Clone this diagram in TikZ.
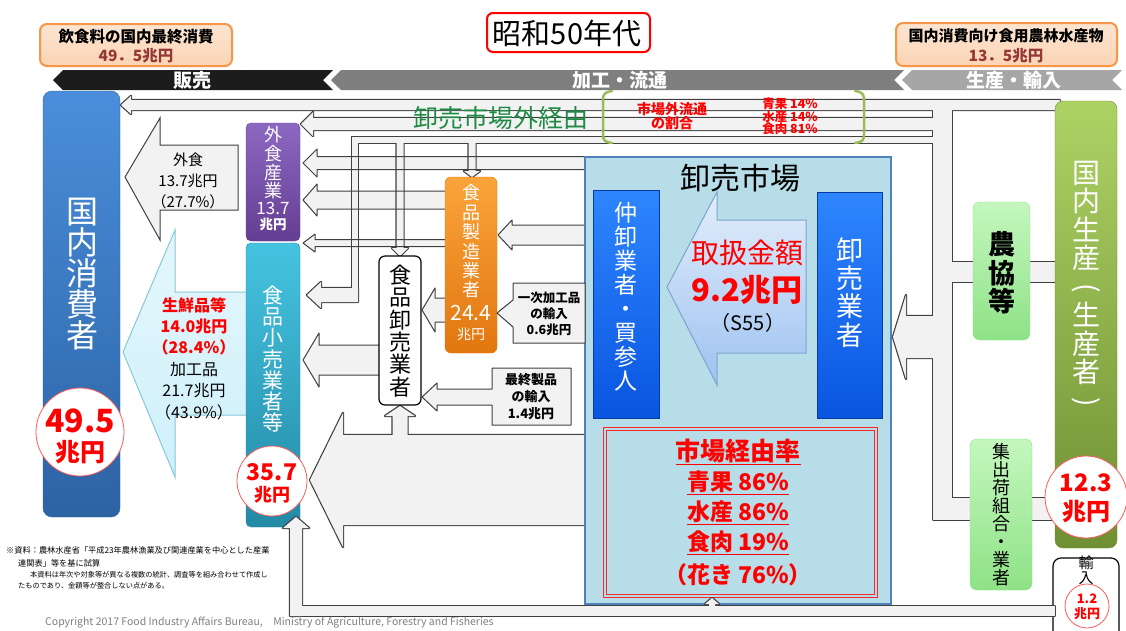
\documentclass[tikz,border=0pt]{standalone}
\usepackage{fontspec}
\usepackage{graphicx}
\setmainfont{Noto Sans CJK JP}
\definecolor{pipefill}{HTML}{F2F2F2}
\definecolor{pipeline}{HTML}{404040}
\definecolor{bandblack}{HTML}{1C1C1C}
\definecolor{bandgrey}{HTML}{7F7F7F}
\definecolor{bandlight}{HTML}{A6A6A6}
\definecolor{peach}{HTML}{FBD4B4}
\definecolor{peachline}{HTML}{F79646}
\definecolor{numred}{HTML}{953735}
\definecolor{consTop}{HTML}{4A8EDB}
\definecolor{consBot}{HTML}{2C63A3}
\definecolor{purTop}{HTML}{8C68C2}
\definecolor{purBot}{HTML}{643E92}
\definecolor{tealTop}{HTML}{45C3E0}
\definecolor{tealBot}{HTML}{238AA6}
\definecolor{oraTop}{HTML}{FAA43A}
\definecolor{oraBot}{HTML}{E2760F}
\definecolor{mktFill}{HTML}{B7DDE8}
\definecolor{mktLine}{HTML}{4F81BD}
\definecolor{bbTop}{HTML}{2E86FF}
\definecolor{bbBot}{HTML}{0A55E0}
\definecolor{grnTop}{HTML}{ADD264}
\definecolor{grnBot}{HTML}{6F8F33}
\definecolor{lgTop}{HTML}{C4F7BE}
\definecolor{lgBot}{HTML}{8EE286}
\definecolor{lbFill}{HTML}{CFF0FA}
\definecolor{lbLine}{HTML}{86C8DC}
\definecolor{maTop}{HTML}{E2EEFB}
\definecolor{maBot}{HTML}{9EC2F0}
\definecolor{maLine}{HTML}{7DA3D0}
\definecolor{mktGreen}{HTML}{1E8B45}
\definecolor{brGreen}{HTML}{9BBB59}
\definecolor{ftgrey}{HTML}{7F7F7F}
\newcommand\fsz[2]{\fontsize{#1}{#2}\selectfont}
\newcommand\vparen[1]{\rotatebox[origin=c]{-90}{#1}}
\newcommand\LArrowP[6]{(#1,#2) -- ({#1+#3},{#2-#4}) -- ({#1+#3},{#2-#5}) -- (#6,{#2-#5}) -- (#6,{#2+#5}) -- ({#1+#3},{#2+#5}) -- ({#1+#3},{#2+#4}) -- cycle}
\newcommand\UArrowP[6]{(#1,#2) -- ({#1+#4},{#2+#3}) -- ({#1+#5},{#2+#3}) -- ({#1+#5},#6) -- ({#1-#5},#6) -- ({#1-#5},{#2+#3}) -- ({#1-#4},{#2+#3}) -- cycle}
\newcommand\DArrowP[6]{(#1,#2) -- ({#1+#4},{#2-#3}) -- ({#1+#5},{#2-#3}) -- ({#1+#5},#6) -- ({#1-#5},#6) -- ({#1-#5},{#2-#3}) -- ({#1-#4},{#2-#3}) -- cycle}
\newcommand\NetDraw[1]{%
  \foreach \p in {#1} {\draw[pipeline, line width=2.4, line join=round] \p;}
  \foreach \p in {#1} {\fill[pipefill] \p;}}
\begin{document}
\begin{tikzpicture}[x=1pt,y=-1pt,
  vtext/.style={align=center, inner sep=0},
  boxshape/.style={inner sep=0, rounded corners=5},
  bandtext/.style={text=white, font=\fsz{19}{21}\bfseries, inner sep=0},
  rowfill/.style={fill=pipefill},
  rowline/.style={draw=pipeline, line width=1, line join=round},
  sumcircle/.style={circle, draw=red!65, fill=white, line width=0.8, inner sep=0},
  redbold/.style={text=red, font=\bfseries, inner sep=0}]
\useasboundingbox (0,0) rectangle (1126,630);
\fill[white] (0,0) rectangle (1126,630);

% ---------- bands
\fill[bandblack] (53,80) -- (63,70) -- (333,70) -- (323,80) -- (333,90) -- (63,90) -- cycle;
\fill[bandgrey] (331,80) -- (341,70) -- (904,70) -- (894,80) -- (904,90) -- (341,90) -- cycle;
\fill[bandlight] (902,80) -- (912,70) -- (1122,70) -- (1112,80) -- (1122,90) -- (912,90) -- cycle;
\node[bandtext] (bSales) at (192,80) {販売};
\node[bandtext] (bProc) at (620,80) {加工・流通};
\node[bandtext] (bProd) at (1014,80) {生産・輸入};

% ---------- top boxes
\node[boxshape, rounded corners=7, draw=peachline, line width=2, top color=peach!60, bottom color=peach, minimum width=192, minimum height=42] (topL) at (136,45) {};
\node[inner sep=0, font=\fsz{15.5}{17}\bfseries] (topLa) at (136,37) {飲食料の国内最終消費};
\node[inner sep=0, font=\fsz{15.5}{17}\bfseries, text=numred] (topLb) at (136,56) {49．5兆円};
\node[boxshape, rounded corners=7, draw=peachline, line width=2, top color=peach!60, bottom color=peach, minimum width=221, minimum height=43] (topR) at (1006.5,44.5) {};
\node[inner sep=0, font=\fsz{15}{17}\bfseries] (topRa) at (1006,36) {国内消費向け食用農林水産物};
\node[inner sep=0, font=\fsz{15.5}{17}\bfseries, text=numred] (topRb) at (1006,56) {13．5兆円};
\node[boxshape, rounded corners=6, draw=red, line width=2, fill=white, minimum width=163, minimum height=39] (title) at (568.5,32.5) {};
\node[inner sep=0, font=\fsz{29}{31}] (titleT) at (567,33) {昭和50年代};

% ---------- row arrows (fill first)
\def\rowlist{{\LArrowP{303}{163}{14}{14}{6.5}{586}},{\LArrowP{303}{200}{14}{16}{9}{446}},{\LArrowP{303}{243}{12}{9}{3.5}{446}},{\LArrowP{498}{235}{14}{15}{10}{586}},{\LArrowP{422}{310}{13}{22}{12}{446}},{\LArrowP{303}{360}{16}{27}{15}{380}}}
\foreach \p in \rowlist {\fill[rowfill] \p;}

% ---------- top pipe network (union)
\NetDraw{{\LArrowP{121}{105}{10}{9}{5}{1060}},{\LArrowP{301}{124}{12}{12}{6}{940}},{(352,137) rectangle (940,143)},{(933,100) rectangle (952,520)},{(945,262) rectangle (1060,282)},{(945,498) rectangle (1060,520)},{(352,137) rectangle (358,302)},{\LArrowP{307}{295}{14}{13}{7}{358}},{\DArrowP{400}{256}{8}{8}{3.5}{140}},{\DArrowP{472}{177}{6}{8}{3.5}{140}},{\LArrowP{893}{337}{13}{42}{21}{940}}}
% ---------- big lower arrow + branch to wholesaler
\NetDraw{{\LArrowP{310}{480}{33}{67}{45}{586}},{\UArrowP{400}{406}{10}{15}{7.5}{440}}}

\foreach \p in \rowlist {\draw[rowline] \p;}

% ---------- labelled arrows towards consumers
\draw[fill=pipefill, draw=pipeline, line width=1] (125,177) -- (160,118) -- (160,145) -- (238,145) -- (238,210) -- (160,210) -- (160,240) -- cycle;
\node[vtext, font=\fsz{15}{21}] (aEat) at (188,181) {外食\\13.7兆円\\（27.7\%）};
\draw[top color=lbFill!55, bottom color=lbFill, draw=lbLine, line width=1] (123,352) -- (175,230) -- (175,292) -- (252,292) -- (252,415) -- (175,415) -- (175,477) -- cycle;
\node[vtext, font=\fsz{16}{21.4}] (aRet) at (194,358.5) {\textcolor{red}{\bfseries 生鮮品等}\\\textcolor{red}{\bfseries 14.0兆円}\\\textcolor{red}{\bfseries （28.4\%）}\\加工品\\21.7兆円\\（43.9\%）};

% ---------- consumer
\node[boxshape, rounded corners=9, top color=consTop, bottom color=consBot, draw=consBot, minimum width=77, minimum height=426] (cons) at (81.5,304) {};
\node[vtext, text=white, font=\fsz{32}{31}] (consT) at (82,274) {国\\内\\消\\費\\者};

% ---------- food service / retail
\node[boxshape, top color=purTop, bottom color=purBot, draw=purBot, minimum width=54, minimum height=118] (eat) at (273,182) {};
\node[vtext, text=white, font=\fsz{18}{18.7}] (eatT) at (273,163) {外\\食\\産\\業};
\node[inner sep=0, text=white, font=\fsz{17}{18}] (eatN) at (273,208) {13.7};
\node[inner sep=0, text=white, font=\fsz{13.5}{15}\bfseries] (eatU) at (273,224) {兆円};
\node[boxshape, top color=tealTop, bottom color=tealBot, draw=tealBot, minimum width=54, minimum height=284] (ret) at (273,385) {};
\node[vtext, text=white, font=\fsz{21}{21.3}] (retT) at (273,359) {食\\品\\小\\売\\業\\者\\等};

% ---------- wholesaler / manufacturer
\node[boxshape, rounded corners=6, fill=white, draw=black, line width=1.2, minimum width=42, minimum height=149] (whl) at (400,330.5) {};
\node[vtext, font=\fsz{22}{22.4}] (whlT) at (400,331) {食\\品\\卸\\売\\業\\者};
\node[boxshape, rounded corners=6, top color=oraTop, bottom color=oraBot, draw=oraBot, minimum width=52, minimum height=176] (mfg) at (471,265) {};
\node[vtext, text=white, font=\fsz{18}{19.4}] (mfgT) at (471,241.5) {食\\品\\製\\造\\業\\者};
\node[inner sep=0, text=white, font=\fsz{21}{22}] (mfgN) at (471,313) {24.4};
\node[inner sep=0, text=white, font=\fsz{14}{15}] (mfgU) at (471,334) {兆円};

% ---------- wholesale market
\node[inner sep=0, fill=mktFill, draw=mktLine, line width=2.5, minimum width=306, minimum height=447] (mkt) at (738,380.5) {};
\node[inner sep=0, font=\fsz{30}{32}] (mktT) at (740,178) {卸売市場};
\node[inner sep=0, top color=bbTop, bottom color=bbBot, draw=bbBot!70!black, minimum width=66, minimum height=228] (mid) at (626,304) {};
\node[vtext, text=white, font=\fsz{23}{24}] (midT) at (626,296.5) {仲\\卸\\業\\者\\・\\買\\参\\人};
\node[inner sep=0, top color=bbTop, bottom color=bbBot, draw=bbBot!70!black, minimum width=65, minimum height=226] (wsl) at (849.5,305) {};
\node[vtext, text=white, font=\fsz{27}{28.3}] (wslT) at (849.5,292.5) {卸\\売\\業\\者};
\draw[top color=maTop, bottom color=maBot, draw=maLine, line width=1] (667,287) -- (717,192) -- (717,220) -- (806,220) -- (806,353) -- (717,353) -- (717,385) -- cycle;
\node[inner sep=0, text=red, font=\fsz{28}{30}] (amtA) at (747,253) {取扱金額};
\node[inner sep=0, text=red, font=\fsz{31}{33}\bfseries] (amtB) at (747,290) {9.2兆円};
\node[inner sep=0, font=\fsz{20}{22}] (amtC) at (748,323) {（S55）};
\draw[red!85, line width=1] (603,427) rectangle (877,597);
\draw[red!85, line width=1] (606,430) rectangle (874,594);
\node[redbold, font=\fsz{25}{27}\bfseries] (rate0) at (738,452) {\underline{市場経由率}};
\node[redbold, font=\fsz{23}{25}\bfseries] (rate1) at (738,483) {\underline{青果 86\%}};
\node[redbold, font=\fsz{23}{25}\bfseries] (rate2) at (738,513) {\underline{水産 86\%}};
\node[redbold, font=\fsz{23}{25}\bfseries] (rate3) at (738,543) {\underline{食肉 19\%}};
\node[redbold, font=\fsz{23}{25}\bfseries] (rate4) at (738,575) {（花き 76\%）};

% ---------- producers
\node[boxshape, rounded corners=8, top color=grnTop, bottom color=grnBot, draw=grnBot, minimum width=62, minimum height=447] (prod) at (1086,324.5) {};
\node[vtext, text=white, font=\fsz{28}{28.5}] (prodT) at (1086,286) {国\\内\\生\\産\\\vparen{(}\\生\\産\\者\\\vparen{)}};
\node[boxshape, rounded corners=7, top color=lgTop, bottom color=lgBot, draw=lgBot, minimum width=57, minimum height=138] (coop) at (1001.5,271) {};
\node[vtext, font=\fsz{27}{28.5}\bfseries] (coopT) at (1001.5,273) {農\\協\\等};
\node[boxshape, rounded corners=7, top color=lgTop, bottom color=lgBot, draw=lgBot, minimum width=62, minimum height=151] (ship) at (1001,514.5) {};
\node[vtext, font=\fsz{18}{18}] (shipT) at (1001,515) {集\\出\\荷\\組\\合\\・\\業\\者};
\node[boxshape, rounded corners=8, fill=white, draw=black, line width=1.2, minimum width=66, minimum height=82] (imp) at (1086,599) {};
\node[vtext, font=\fsz{15}{15}] (impT) at (1086,570) {輸\\入};

% ---------- bottom pipe network
\NetDraw{{(290,606) rectangle (1055,616)},{\UArrowP{296}{517}{11}{13}{6}{616}},{\UArrowP{712}{598}{6}{7}{3}{610}}}

% ---------- amount circles
\node[sumcircle, minimum size=88] (c495) at (80,432) {};
\node[redbold, font=\fsz{32}{34}\bfseries] (c495a) at (80,421) {49.5};
\node[redbold, font=\fsz{25}{27}\bfseries] (c495b) at (80,452) {兆円};
\node[sumcircle, minimum size=70] (c357) at (272,481) {};
\node[redbold, font=\fsz{23}{25}\bfseries] (c357a) at (272,472) {35.7};
\node[redbold, font=\fsz{18}{20}\bfseries] (c357b) at (272,495) {兆円};
\node[sumcircle, minimum size=82] (c123) at (1086,497) {};
\node[redbold, font=\fsz{24}{26}\bfseries] (c123a) at (1086,483) {12.3};
\node[redbold, font=\fsz{24}{26}\bfseries] (c123b) at (1086,512) {兆円};
\node[sumcircle, minimum size=44] (c12) at (1087,606) {};
\node[redbold, font=\fsz{13}{14}\bfseries] (c12a) at (1087,599) {1.2};
\node[redbold, font=\fsz{13}{14}\bfseries] (c12b) at (1087,614) {兆円};

% ---------- import callouts
\draw[fill=pipefill, draw=pipeline, line width=1, line join=round] (513,283) -- (585,283) -- (585,343) -- (513,343) -- (513,327) -- (497,313) -- (513,300) -- cycle;
\node[vtext, font=\fsz{12.5}{16}\bfseries] (impA) at (549,313.5) {一次加工品\\の輸入\\0.6兆円};
\draw[fill=pipefill, draw=pipeline, line width=1, line join=round] (492,368) -- (571,368) -- (571,425) -- (492,425) -- (492,405) -- (437,405) -- (437,411) -- (422,397) -- (437,383) -- (437,389) -- (492,389) -- cycle;
\node[vtext, font=\fsz{13}{17}\bfseries] (impB) at (531,397) {最終製品\\の輸入\\1.4兆円};

% ---------- outside-market label
\node[inner sep=0, text=mktGreen, font=\fsz{25}{27}] (outT) at (501,118) {卸売市場外経由};
\draw[brGreen, line width=2.5, line cap=round] (612,91) .. controls (604,92) and (603,95) .. (603,100) -- (603,134) .. controls (603,140) and (604,142) .. (612,143);
\draw[brGreen, line width=2.5, line cap=round] (855,91) .. controls (863,92) and (864,95) .. (864,100) -- (864,134) .. controls (864,140) and (863,142) .. (855,143);
\node[vtext, text=red, font=\fsz{14}{14}\bfseries] (outR) at (672,116) {市場外流通\\の割合};
\node[vtext, text=red, font=\fsz{12.5}{12.5}\bfseries] (outP) at (790,116.5) {青果 14\%\\水産 14\%\\食肉 81\%};

% ---------- notes
\node[anchor=west, inner sep=0, font=\fsz{8.2}{10}] (n1) at (6,550) {※資料：農林水産省「平成23年農林漁業及び関連産業を中心とした産業};
\node[anchor=west, inner sep=0, font=\fsz{8.2}{10}] (n2) at (18,563) {連関表」等を基に試算};
\node[anchor=west, inner sep=0, font=\fsz{7.2}{9}] (n3) at (30,575) {本資料は年次や対象等が異なる複数の統計、調査等を組み合わせて作成し};
\node[anchor=west, inner sep=0, font=\fsz{7.2}{9}] (n4) at (18,586) {たものであり、金額等が整合しない点がある。};
\node[anchor=west, inner sep=0, text=ftgrey, font=\fsz{10.5}{12}] (copy) at (45,623) {Copyright 2017 Food Industry Affairs Bureau,\quad Ministry of Agriculture, Forestry and Fisheries};
\end{tikzpicture}
\end{document}
